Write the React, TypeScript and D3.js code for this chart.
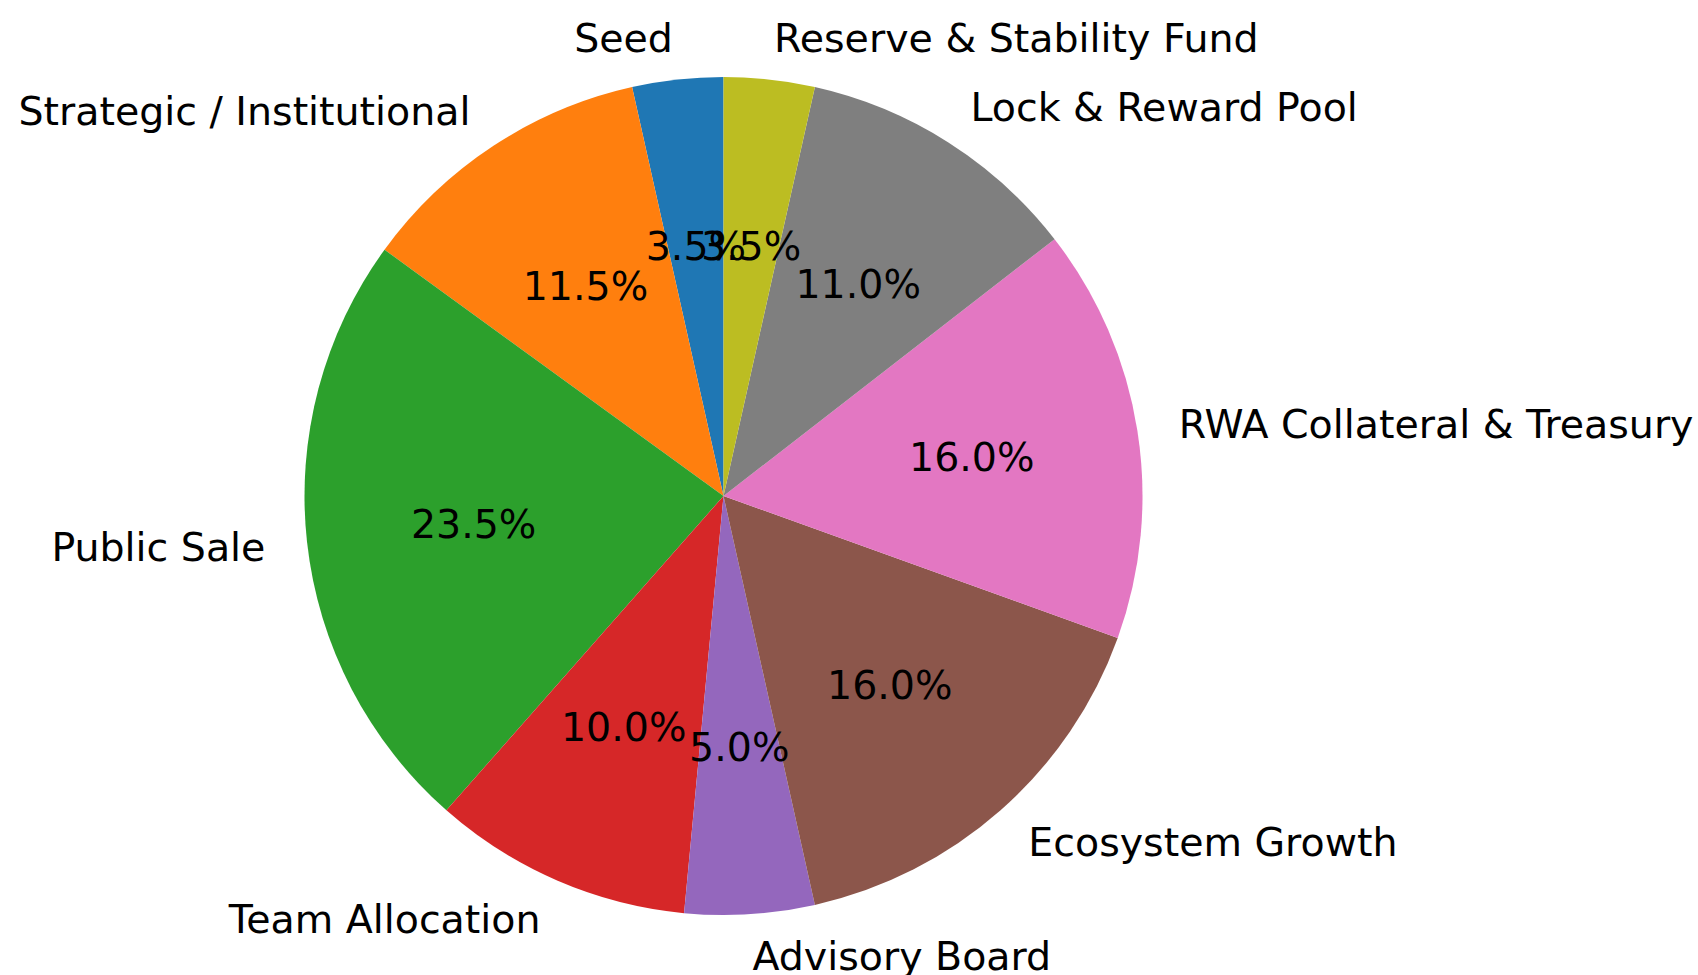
import React from 'react';
import * as d3 from 'd3';

const categories = [
  'Seed',
  'Strategic / Institutional',
  'Public Sale',
  'Team Allocation',
  'Advisory Board',
  'Ecosystem Growth',
  'RWA Collateral & Treasury',
  'Lock & Reward Pool',
  'Reserve & Stability Fund',
];
const shares = [3.5, 11.5, 23.5, 10.0, 5.0, 16.0, 16.0, 11.0, 3.5];
const colors = ['#1f77b4', '#ff7f0e', '#2ca02c', '#d62728', '#9467bd', '#8c564b', '#e377c2', '#7f7f7f', '#bcbd22'];

const width = 1698;
const height = 975;
const cx = 723.5;
const cy = 496;
const radius = 419;
const fontSize = 39.5;

export default function App() {
  const rows = categories.map((name, i) => ({ name, value: shares[i], color: colors[i] }));

  // matplotlib style: start at 12 o'clock, counter-clockwise
  const pie = d3.pie<any>().sort(null).value(d => d.value).startAngle(0).endAngle(-2 * Math.PI);
  const arcs = pie(rows);
  const arc = d3.arc<any>().innerRadius(0).outerRadius(radius);
  const total = d3.sum(shares);

  return (
    <svg width={width} height={height} style={{ position: 'absolute', left: 0, top: 0, background: '#fff' }}
      fontFamily="'DejaVu Sans', sans-serif" fontSize={fontSize}>
      <g transform={`translate(${cx},${cy})`}>
        {arcs.map((a, i) => (
          <path key={'w' + i} d={arc(a) || ''} fill={a.data.color} />
        ))}
        {arcs.map((a, i) => {
          const mid = (a.startAngle + a.endAngle) / 2;
          const lx = Math.sin(mid) * radius * 1.1;
          const ly = -Math.cos(mid) * radius * 1.1;
          return (
            <text key={'l' + i} x={lx} y={ly} textAnchor={lx < 0 ? 'end' : 'start'}
              dominantBaseline="central" fill="#000">{a.data.name}</text>
          );
        })}
        {arcs.map((a, i) => {
          const mid = (a.startAngle + a.endAngle) / 2;
          const px = Math.sin(mid) * radius * 0.6;
          const py = -Math.cos(mid) * radius * 0.6;
          return (
            <text key={'p' + i} x={px} y={py} textAnchor="middle" dominantBaseline="central" fill="#000">
              {((a.data.value / total) * 100).toFixed(1)}%
            </text>
          );
        })}
      </g>
    </svg>
  );
}
